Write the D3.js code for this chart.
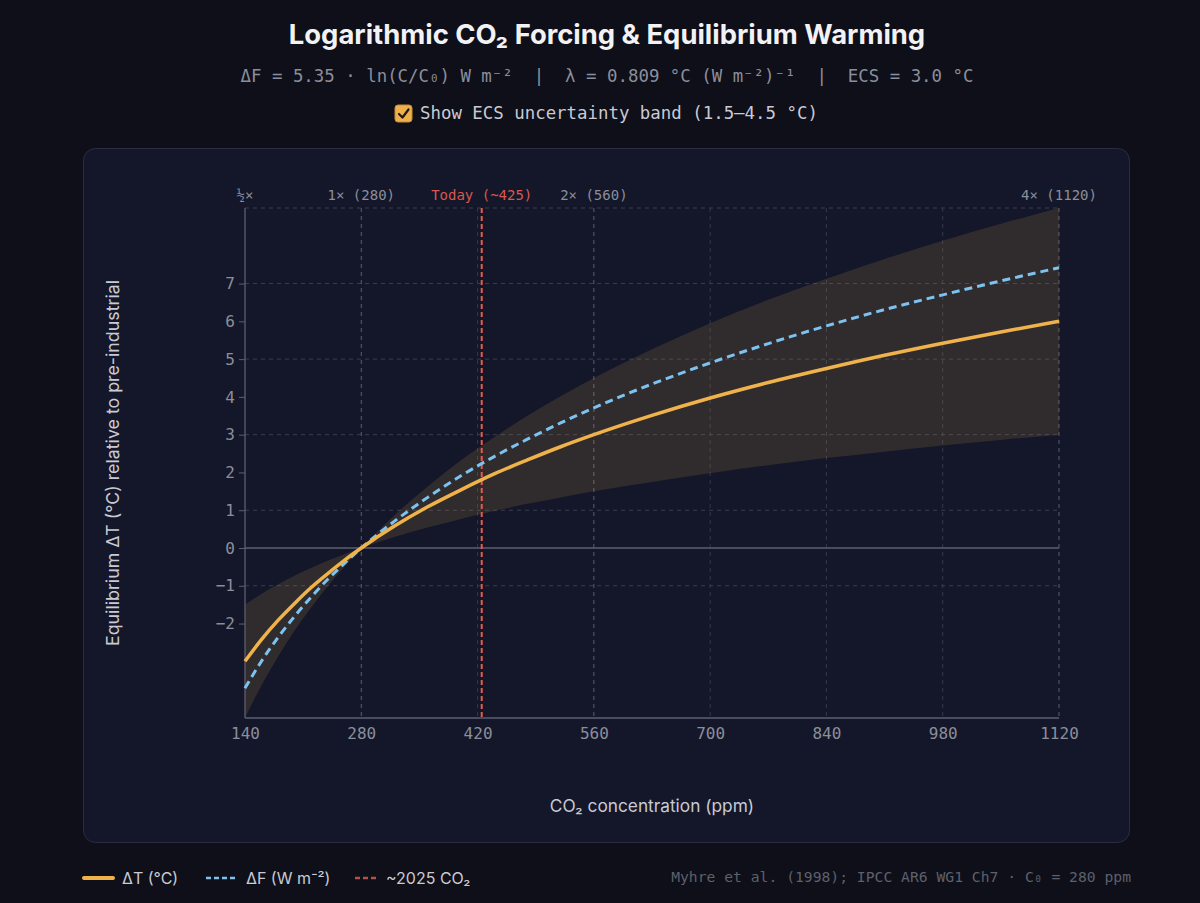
<!DOCTYPE html>
<html>
<head>
<meta charset="utf-8">
<script src="https://cdn.jsdelivr.net/npm/d3@7/dist/d3.min.js"></script>
<style>
  html, body { margin: 0; padding: 0; background: #0e0f18; }
  svg { display: block; }
</style>
</head>
<body>
<svg id="chart" width="1200" height="903"></svg>
<script>
// ---- data ----
const co2 = [140, 160, 180, 200, 220, 240, 260, 280, 320, 360, 400, 440, 480, 520, 560, 630, 700, 770, 840, 910, 980, 1050, 1120];
const deltaT = [-3.00, -2.42, -1.91, -1.46, -1.04, -0.67, -0.32, 0, 0.58, 1.09, 1.54, 1.96, 2.33, 2.68, 3.00, 3.51, 3.97, 4.38, 4.75, 5.10, 5.42, 5.72, 6.00];
const deltaF = [-3.71, -2.99, -2.36, -1.80, -1.29, -0.82, -0.40, 0, 0.71, 1.34, 1.91, 2.42, 2.88, 3.31, 3.71, 4.34, 4.90, 5.41, 5.88, 6.31, 6.70, 7.07, 7.42];
const bandLow = [-1.50, -1.21, -0.96, -0.73, -0.52, -0.33, -0.16, 0, 0.29, 0.54, 0.77, 0.98, 1.17, 1.34, 1.50, 1.75, 1.98, 2.19, 2.38, 2.55, 2.71, 2.86, 3.00];
const bandHigh = [-4.50, -3.63, -2.87, -2.18, -1.57, -1.00, -0.48, 0, 0.87, 1.63, 2.32, 2.93, 3.50, 4.02, 4.50, 5.26, 5.95, 6.57, 7.13, 7.65, 8.13, 8.58, 9.00];
const xTicks = [140, 280, 420, 560, 700, 840, 980, 1120];
const yTicks = [-2, -1, 0, 1, 2, 3, 4, 5, 6, 7];
const yGrid = [-1, 1, 3, 5, 7, 9];
const doublingGrid = [280, 560, 1120];
const topMarks = [
  {c: 140, label: "½×"},
  {c: 280, label: "1× (280)"},
  {c: 560, label: "2× (560)"},
  {c: 1120, label: "4× (1120)"}
];
const todayCO2 = 425;
const todayLabel = "Today (~425)";

// ---- layout ----
const svg = d3.select("#chart");
const W = 1200, H = 903;
const plot = {left: 245, right: 1059, top: 208, bottom: 718};
const mono = "'DejaVu Sans Mono', 'Liberation Mono', monospace";
const sans = "Inter, 'Noto Sans', 'DejaVu Sans', sans-serif";

svg.append("rect").attr("width", W).attr("height", H).attr("fill", "#0e0f18");

// Title
svg.append("text").attr("x", 607).attr("y", 44).attr("text-anchor", "middle")
  .attr("font-family", sans).attr("font-weight", 700).attr("font-size", 27.4).attr("fill", "#f2f2f5")
  .text("Logarithmic CO₂ Forcing & Equilibrium Warming");

// Subtitle
svg.append("text").attr("x", 607).attr("y", 82).attr("text-anchor", "middle")
  .attr("font-family", mono).attr("font-size", 17.4).attr("fill", "#8b8e9b")
  .attr("xml:space", "preserve").style("white-space", "pre")
  .text("ΔF = 5.35 · ln(C/C₀) W m⁻²  |  λ = 0.809 °C (W m⁻²)⁻¹  |  ECS = 3.0 °C");

// Checkbox
const cb = svg.append("g").attr("transform", "translate(395,105)");
cb.append("rect").attr("width", 17).attr("height", 17).attr("rx", 3).attr("fill", "#efb04c").attr("stroke", "#c98d2f");
cb.append("path").attr("d", "M4 9 L7.5 12.5 L13.5 4.5").attr("fill", "none").attr("stroke", "#1d1a14").attr("stroke-width", 2.2).attr("stroke-linecap", "round").attr("stroke-linejoin", "round");
svg.append("text").attr("x", 420).attr("y", 119)
  .attr("font-family", mono).attr("font-size", 17.4).attr("fill", "#c9cad3")
  .text("Show ECS uncertainty band (1.5–4.5 °C)");

// Panel
svg.append("rect").attr("x", 83.5).attr("y", 148.5).attr("width", 1046).attr("height", 694).attr("rx", 12)
  .attr("fill", "#141729").attr("stroke", "#2a2d42").attr("stroke-width", 1);

// Scales
const x = d3.scaleLinear().domain([140, 1120]).range([plot.left, plot.right]);
const y = d3.scaleLinear().domain([-4.5, 9]).range([plot.bottom, plot.top]);

// Grid
const g = svg.append("g");
g.selectAll(".vg").data(xTicks.filter(d => d !== 140 && !doublingGrid.includes(d))).join("line")
  .attr("x1", d => x(d)).attr("x2", d => x(d)).attr("y1", plot.top).attr("y2", plot.bottom)
  .attr("stroke", "#34374a").attr("stroke-dasharray", "4,4").attr("stroke-width", 1);
g.selectAll(".hg").data(yGrid).join("line")
  .attr("x1", plot.left).attr("x2", plot.right).attr("y1", d => y(d)).attr("y2", d => y(d))
  .attr("stroke", "#3a3d50").attr("stroke-dasharray", "4,4").attr("stroke-width", 1);
g.selectAll(".dg").data(doublingGrid).join("line")
  .attr("x1", d => x(d)).attr("x2", d => x(d)).attr("y1", plot.top).attr("y2", plot.bottom)
  .attr("stroke", "#5a5d6e").attr("stroke-dasharray", "4,4").attr("stroke-width", 1);

// Band
const pts = co2.map((c, i) => ({c, t: deltaT[i], f: deltaF[i], lo: bandLow[i], hi: bandHigh[i]}));
svg.append("path").datum(pts)
  .attr("d", d3.area().x(d => x(d.c)).y0(d => y(d.lo)).y1(d => y(d.hi)).curve(d3.curveMonotoneX))
  .attr("fill", "#f0b24a").attr("fill-opacity", 0.13);

// Zero line & axes
svg.append("line").attr("x1", plot.left).attr("x2", plot.right).attr("y1", y(0)).attr("y2", y(0))
  .attr("stroke", "#5c5f70").attr("stroke-width", 1.3);
svg.append("line").attr("x1", plot.left).attr("x2", plot.right).attr("y1", plot.bottom).attr("y2", plot.bottom)
  .attr("stroke", "#5c5f70").attr("stroke-width", 1.3);
svg.append("line").attr("x1", plot.left).attr("x2", plot.left).attr("y1", plot.top).attr("y2", plot.bottom)
  .attr("stroke", "#5c5f70").attr("stroke-width", 1.3);

// Y axis ticks
const yAxis = d3.axisLeft(y).tickValues(yTicks).tickSize(6).tickPadding(4).tickFormat(d3.format("d"));
const ya = svg.append("g").attr("transform", `translate(${plot.left},0)`).call(yAxis);
ya.select(".domain").remove();
ya.selectAll("line").attr("stroke", "#5c5f70");
ya.selectAll("text").attr("font-family", mono).attr("font-size", 16).attr("fill", "#8b8e9b");

// X axis ticks
const xAxis = d3.axisBottom(x).tickValues(xTicks).tickSize(0).tickPadding(10).tickFormat(d3.format("d"));
const xa = svg.append("g").attr("transform", `translate(0,${plot.bottom})`).call(xAxis);
xa.select(".domain").remove();
xa.selectAll("text").attr("font-family", mono).attr("font-size", 16).attr("fill", "#8b8e9b");

// Top labels
svg.selectAll(".toplab").data(topMarks).join("text")
  .attr("x", d => x(d.c)).attr("y", 200).attr("text-anchor", "middle")
  .attr("font-family", mono).attr("font-size", 14).attr("fill", "#8b8e9b")
  .text(d => d.label);
svg.append("text").attr("x", x(todayCO2)).attr("y", 200).attr("text-anchor", "middle")
  .attr("font-family", mono).attr("font-size", 14).attr("fill", "#d9574c").text(todayLabel);

// Today line
svg.append("line").attr("x1", x(todayCO2)).attr("x2", x(todayCO2)).attr("y1", plot.top).attr("y2", plot.bottom)
  .attr("stroke", "#e45a4e").attr("stroke-width", 2).attr("stroke-dasharray", "5,3");

// Curves
svg.append("path").datum(pts)
  .attr("d", d3.line().x(d => x(d.c)).y(d => y(d.f)).curve(d3.curveMonotoneX))
  .attr("fill", "none").attr("stroke", "#7cc3f2").attr("stroke-width", 3).attr("stroke-dasharray", "8,5");
svg.append("path").datum(pts)
  .attr("d", d3.line().x(d => x(d.c)).y(d => y(d.t)).curve(d3.curveMonotoneX))
  .attr("fill", "none").attr("stroke", "#f0b24a").attr("stroke-width", 3.5);

// Axis titles
svg.append("text").attr("x", 652).attr("y", 812).attr("text-anchor", "middle")
  .attr("font-family", sans).attr("font-size", 17.3).attr("fill", "#c9cad3")
  .text("CO₂ concentration (ppm)");
svg.append("text").attr("transform", "translate(119,463) rotate(-90)").attr("text-anchor", "middle")
  .attr("font-family", sans).attr("font-size", 17.8).attr("fill", "#c9cad3")
  .text("Equilibrium ΔT (°C) relative to pre-industrial");

// Legend
const lg = svg.append("g");
lg.append("line").attr("x1", 84).attr("x2", 113).attr("y1", 878).attr("y2", 878)
  .attr("stroke", "#f0b24a").attr("stroke-width", 4).attr("stroke-linecap", "round");
lg.append("text").attr("x", 122).attr("y", 884).attr("font-family", sans).attr("font-size", 16).attr("fill", "#c9cad3").text("ΔT (°C)");
lg.append("line").attr("x1", 206).attr("x2", 238).attr("y1", 878).attr("y2", 878)
  .attr("stroke", "#7cc3f2").attr("stroke-width", 2.5).attr("stroke-dasharray", "5,3");
lg.append("text").attr("x", 246).attr("y", 884).attr("font-family", sans).attr("font-size", 16).attr("fill", "#c9cad3").text("ΔF (W m⁻²)");
lg.append("line").attr("x1", 355).attr("x2", 378).attr("y1", 878).attr("y2", 878)
  .attr("stroke", "#b8504a").attr("stroke-width", 2.5).attr("stroke-dasharray", "5,3");
lg.append("text").attr("x", 386).attr("y", 884).attr("font-family", sans).attr("font-size", 16).attr("fill", "#c9cad3").text("~2025 CO₂");

// Footer
svg.append("text").attr("x", 1131).attr("y", 882).attr("text-anchor", "end")
  .attr("font-family", mono).attr("font-size", 14.7).attr("fill", "#5d606d")
  .text("Myhre et al. (1998); IPCC AR6 WG1 Ch7 · C₀ = 280 ppm");
</script>
</body>
</html>
